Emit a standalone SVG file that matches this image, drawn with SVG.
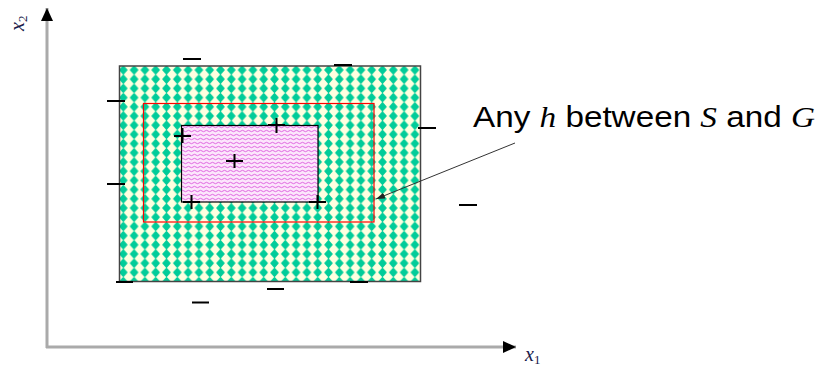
<svg xmlns="http://www.w3.org/2000/svg" width="821" height="369" viewBox="0 0 821 369">
<defs>
<pattern id="dots" patternUnits="userSpaceOnUse" x="117.9" y="65.4" width="10.8" height="9.2">
<rect width="10.8" height="9.2" fill="#FFFFE0"/>
<path d="M5.4 0.8 L8.9 4.6 L5.4 8.4 L1.9 4.6 Z" fill="#00CC99" stroke="#00CC99" stroke-width="1.4" stroke-linejoin="round"/>
</pattern>
<pattern id="waves" patternUnits="userSpaceOnUse" x="181" y="125" width="6" height="4">
<rect width="6" height="4" fill="#FCE6FC"/>
<path d="M0 2 Q1.5 0.6 3 2 T6 2" fill="none" stroke="#D846D8" stroke-width="0.8"/>
</pattern>
<marker id="axhead" markerUnits="userSpaceOnUse" markerWidth="14" markerHeight="14" refX="13" refY="6" orient="auto">
<path d="M0 0 L13 6 L0 12 Z" fill="#000"/>
</marker>
<marker id="lead" markerUnits="userSpaceOnUse" markerWidth="10" markerHeight="10" refX="9" refY="3" orient="auto">
<path d="M0 0 L9 3 L0 6 Z" fill="#222"/>
</marker>
</defs>
<style>
.minus{stroke:#000;stroke-width:2;}
.plus{stroke:#000;stroke-width:2;fill:none;}
.axis{stroke:#AAAAAA;stroke-width:3;fill:none;}
.lbl{font-family:"Liberation Sans",Arial,sans-serif;font-size:30px;fill:#000;}
.it{font-family:"Liberation Serif","Times New Roman",serif;font-style:italic;}
.ax{font-family:"Liberation Serif","Times New Roman",serif;font-style:italic;font-size:20px;fill:#1a1a4a;}
</style>

<g id="axes">
<line class="axis" x1="47" y1="348" x2="47" y2="8" marker-end="url(#axhead)"/>
<line class="axis" x1="46" y1="347" x2="516" y2="347" marker-end="url(#axhead)"/>
<text class="ax" transform="translate(24,31) rotate(-90)">x<tspan font-size="13" font-style="normal" dy="3">2</tspan></text>
<text class="ax" x="525" y="361">x<tspan font-size="13" font-style="normal" dy="3">1</tspan></text>
</g>

<g id="G-region">
<rect x="119.5" y="66" width="301" height="215.5" fill="url(#dots)" stroke="#444" stroke-width="1.5"/>
</g>
<g id="h-region">
<rect x="143.5" y="103.5" width="230.5" height="118.5" fill="none" stroke="#FF0000" stroke-width="1.2"/>
</g>
<g id="S-region">
<rect x="181.5" y="125.5" width="136.5" height="76.5" fill="url(#waves)" stroke="#000" stroke-width="1.2"/>
</g>

<g id="negatives">
<line class="minus" x1="183" y1="59" x2="201" y2="59"/>
<line class="minus" x1="334" y1="65" x2="352" y2="65"/>
<line class="minus" x1="107" y1="101" x2="125" y2="101"/>
<line class="minus" x1="418" y1="128" x2="436" y2="128"/>
<line class="minus" x1="107" y1="184" x2="125" y2="184"/>
<line class="minus" x1="459" y1="205" x2="477" y2="205"/>
<line class="minus" x1="116" y1="282" x2="133" y2="282"/>
<line class="minus" x1="192" y1="302.5" x2="209" y2="302.5"/>
<line class="minus" x1="267" y1="289" x2="284" y2="289"/>
<line class="minus" x1="350" y1="282" x2="368" y2="282"/>
</g>

<g id="positives">
<path class="plus" d="M174 136 H191 M182.5 128 V143"/>
<path class="plus" d="M268 125 H285 M276.5 118 V133"/>
<path class="plus" d="M226 161 H243 M234.5 154 V168"/>
<path class="plus" d="M183 202 H200 M191.5 195 V209"/>
<path class="plus" d="M309 202 H326 M317.5 195 V209"/>
</g>

<g id="connectors">
<line x1="515" y1="143" x2="376" y2="199" stroke="#333" stroke-width="1" marker-end="url(#lead)"/>
</g>

<g id="label">
<text class="lbl" x="473" y="127" textLength="342" lengthAdjust="spacingAndGlyphs">Any <tspan class="it">h</tspan> between <tspan class="it">S</tspan> and <tspan class="it">G</tspan></text>
</g>
</svg>
